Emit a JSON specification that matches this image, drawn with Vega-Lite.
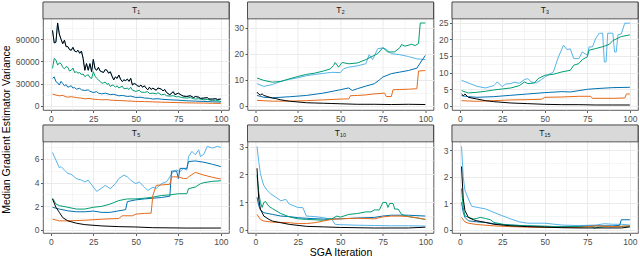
{
  "$schema": "https://vega.github.io/schema/vega-lite/v6.json",
  "padding": {"left": 2, "top": 1, "right": 2, "bottom": 0},
  "background": "white",
  "title": {"text": "Median Gradient Estimator Variance", "orient": "left", "anchor": "middle", "fontSize": 10.5, "fontWeight": "normal", "color": "#000000", "font": "Liberation Sans", "offset": 2},
  "config": {
    "font": "Liberation Sans",
    "view": {"stroke": "#333333", "strokeWidth": 0.8},
    "axis": {"domain": false, "tickColor": "#333333", "tickSize": 2.5, "tickWidth": 0.8, "labelColor": "#4d4d4d", "labelFontSize": 8.5, "labelPadding": 1.5, "gridColor": "#ebebeb", "titleFontSize": 10.5, "titleFontWeight": "normal", "titleColor": "#000000", "titlePadding": 1.5}
  },
  "datasets": {
    "d": [
      {"p":"T1","s":"lb","x":1,"y":102000},{"p":"T1","s":"lb","x":2,"y":85000},{"p":"T1","s":"lb","x":3,"y":86000},{"p":"T1","s":"lb","x":4,"y":112000},{"p":"T1","s":"lb","x":5,"y":97000},{"p":"T1","s":"lb","x":6,"y":90000},{"p":"T1","s":"lb","x":7,"y":84000},{"p":"T1","s":"lb","x":8,"y":88600},{"p":"T1","s":"lb","x":9,"y":80000},{"p":"T1","s":"lb","x":10,"y":80000},{"p":"T1","s":"lb","x":11,"y":76000},{"p":"T1","s":"lb","x":12,"y":75000},{"p":"T1","s":"lb","x":13,"y":79000},{"p":"T1","s":"lb","x":14,"y":74000},{"p":"T1","s":"lb","x":15,"y":73000},{"p":"T1","s":"lb","x":16,"y":75000},{"p":"T1","s":"lb","x":17,"y":71000},{"p":"T1","s":"lb","x":18,"y":74000},{"p":"T1","s":"lb","x":19,"y":64000},{"p":"T1","s":"lb","x":20,"y":48000},{"p":"T1","s":"lb","x":21,"y":57000},{"p":"T1","s":"lb","x":22,"y":48000},{"p":"T1","s":"lb","x":23,"y":57000},{"p":"T1","s":"lb","x":24,"y":46000},{"p":"T1","s":"lb","x":25,"y":62700},{"p":"T1","s":"lb","x":26,"y":50000},{"p":"T1","s":"lb","x":27,"y":48000},{"p":"T1","s":"lb","x":28,"y":52000},{"p":"T1","s":"lb","x":29,"y":47000},{"p":"T1","s":"lb","x":30,"y":46000},{"p":"T1","s":"lb","x":31,"y":45000},{"p":"T1","s":"lb","x":32,"y":49000},{"p":"T1","s":"lb","x":33,"y":48000},{"p":"T1","s":"lb","x":34,"y":44000},{"p":"T1","s":"lb","x":35,"y":46000},{"p":"T1","s":"lb","x":36,"y":40000},{"p":"T1","s":"lb","x":37,"y":35000},{"p":"T1","s":"lb","x":38,"y":39000},{"p":"T1","s":"lb","x":39,"y":37000},{"p":"T1","s":"lb","x":40,"y":41600},{"p":"T1","s":"lb","x":41,"y":36000},{"p":"T1","s":"lb","x":42,"y":32700},{"p":"T1","s":"lb","x":43,"y":35000},{"p":"T1","s":"lb","x":44,"y":34000},{"p":"T1","s":"lb","x":45,"y":36000},{"p":"T1","s":"lb","x":46,"y":33000},{"p":"T1","s":"lb","x":47,"y":37000},{"p":"T1","s":"lb","x":48,"y":28000},{"p":"T1","s":"lb","x":49,"y":30000},{"p":"T1","s":"lb","x":50,"y":29000},{"p":"T1","s":"lb","x":51,"y":27000},{"p":"T1","s":"lb","x":52,"y":26000},{"p":"T1","s":"lb","x":53,"y":28000},{"p":"T1","s":"lb","x":54,"y":25000},{"p":"T1","s":"lb","x":55,"y":27000},{"p":"T1","s":"lb","x":56,"y":24000},{"p":"T1","s":"lb","x":57,"y":21500},{"p":"T1","s":"lb","x":58,"y":25000},{"p":"T1","s":"lb","x":59,"y":22000},{"p":"T1","s":"lb","x":60,"y":23700},{"p":"T1","s":"lb","x":62,"y":21000},{"p":"T1","s":"lb","x":63,"y":24000},{"p":"T1","s":"lb","x":65,"y":22500},{"p":"T1","s":"lb","x":66,"y":20000},{"p":"T1","s":"lb","x":67,"y":22000},{"p":"T1","s":"lb","x":68,"y":18000},{"p":"T1","s":"lb","x":70,"y":14800},{"p":"T1","s":"lb","x":72,"y":19000},{"p":"T1","s":"lb","x":73,"y":15000},{"p":"T1","s":"lb","x":75,"y":17000},{"p":"T1","s":"lb","x":77,"y":14000},{"p":"T1","s":"lb","x":78,"y":13000},{"p":"T1","s":"lb","x":80,"y":12500},{"p":"T1","s":"lb","x":82,"y":13500},{"p":"T1","s":"lb","x":84,"y":11000},{"p":"T1","s":"lb","x":85,"y":12500},{"p":"T1","s":"lb","x":87,"y":11500},{"p":"T1","s":"lb","x":88,"y":10000},{"p":"T1","s":"lb","x":90,"y":10300},{"p":"T1","s":"lb","x":92,"y":11000},{"p":"T1","s":"lb","x":93,"y":9000},{"p":"T1","s":"lb","x":95,"y":9000},{"p":"T1","s":"lb","x":97,"y":9500},{"p":"T1","s":"lb","x":98,"y":8500},{"p":"T1","s":"lb","x":100,"y":9000},
      {"p":"T1","s":"bl","x":1,"y":37000},{"p":"T1","s":"bl","x":2,"y":39000},{"p":"T1","s":"bl","x":3,"y":32700},{"p":"T1","s":"bl","x":4,"y":31000},{"p":"T1","s":"bl","x":5,"y":28000},{"p":"T1","s":"bl","x":6,"y":33000},{"p":"T1","s":"bl","x":7,"y":30000},{"p":"T1","s":"bl","x":8,"y":27000},{"p":"T1","s":"bl","x":9,"y":28500},{"p":"T1","s":"bl","x":10,"y":25000},{"p":"T1","s":"bl","x":11,"y":26000},{"p":"T1","s":"bl","x":12,"y":27000},{"p":"T1","s":"bl","x":13,"y":24000},{"p":"T1","s":"bl","x":14,"y":24500},{"p":"T1","s":"bl","x":15,"y":22400},{"p":"T1","s":"bl","x":17,"y":23500},{"p":"T1","s":"bl","x":18,"y":21500},{"p":"T1","s":"bl","x":20,"y":20600},{"p":"T1","s":"bl","x":22,"y":21500},{"p":"T1","s":"bl","x":23,"y":19500},{"p":"T1","s":"bl","x":25,"y":17900},{"p":"T1","s":"bl","x":27,"y":19000},{"p":"T1","s":"bl","x":28,"y":17000},{"p":"T1","s":"bl","x":30,"y":16000},{"p":"T1","s":"bl","x":32,"y":17000},{"p":"T1","s":"bl","x":35,"y":15000},{"p":"T1","s":"bl","x":37,"y":15500},{"p":"T1","s":"bl","x":40,"y":13400},{"p":"T1","s":"bl","x":42,"y":14000},{"p":"T1","s":"bl","x":45,"y":12500},{"p":"T1","s":"bl","x":47,"y":13000},{"p":"T1","s":"bl","x":50,"y":11200},{"p":"T1","s":"bl","x":53,"y":11500},{"p":"T1","s":"bl","x":55,"y":10500},{"p":"T1","s":"bl","x":58,"y":10000},{"p":"T1","s":"bl","x":60,"y":9000},{"p":"T1","s":"bl","x":63,"y":9500},{"p":"T1","s":"bl","x":65,"y":8800},{"p":"T1","s":"bl","x":70,"y":8000},{"p":"T1","s":"bl","x":75,"y":7500},{"p":"T1","s":"bl","x":80,"y":6700},{"p":"T1","s":"bl","x":85,"y":6200},{"p":"T1","s":"bl","x":90,"y":5800},{"p":"T1","s":"bl","x":95,"y":5300},{"p":"T1","s":"bl","x":100,"y":4900},
      {"p":"T1","s":"gr","x":1,"y":50600},{"p":"T1","s":"gr","x":2,"y":64000},{"p":"T1","s":"gr","x":3,"y":62000},{"p":"T1","s":"gr","x":4,"y":55000},{"p":"T1","s":"gr","x":5,"y":58000},{"p":"T1","s":"gr","x":6,"y":57000},{"p":"T1","s":"gr","x":7,"y":52000},{"p":"T1","s":"gr","x":8,"y":50000},{"p":"T1","s":"gr","x":9,"y":53000},{"p":"T1","s":"gr","x":10,"y":52000},{"p":"T1","s":"gr","x":11,"y":47000},{"p":"T1","s":"gr","x":12,"y":48000},{"p":"T1","s":"gr","x":13,"y":51000},{"p":"T1","s":"gr","x":14,"y":45000},{"p":"T1","s":"gr","x":15,"y":46000},{"p":"T1","s":"gr","x":16,"y":44000},{"p":"T1","s":"gr","x":17,"y":45000},{"p":"T1","s":"gr","x":18,"y":42000},{"p":"T1","s":"gr","x":19,"y":43000},{"p":"T1","s":"gr","x":20,"y":39400},{"p":"T1","s":"gr","x":21,"y":41000},{"p":"T1","s":"gr","x":22,"y":42000},{"p":"T1","s":"gr","x":23,"y":38000},{"p":"T1","s":"gr","x":24,"y":37000},{"p":"T1","s":"gr","x":25,"y":46000},{"p":"T1","s":"gr","x":26,"y":40000},{"p":"T1","s":"gr","x":27,"y":37000},{"p":"T1","s":"gr","x":28,"y":35000},{"p":"T1","s":"gr","x":29,"y":33000},{"p":"T1","s":"gr","x":30,"y":30400},{"p":"T1","s":"gr","x":31,"y":31000},{"p":"T1","s":"gr","x":32,"y":32000},{"p":"T1","s":"gr","x":33,"y":29000},{"p":"T1","s":"gr","x":34,"y":30000},{"p":"T1","s":"gr","x":35,"y":26000},{"p":"T1","s":"gr","x":36,"y":28000},{"p":"T1","s":"gr","x":37,"y":27500},{"p":"T1","s":"gr","x":38,"y":25000},{"p":"T1","s":"gr","x":39,"y":27000},{"p":"T1","s":"gr","x":40,"y":24000},{"p":"T1","s":"gr","x":42,"y":26500},{"p":"T1","s":"gr","x":43,"y":23000},{"p":"T1","s":"gr","x":45,"y":23700},{"p":"T1","s":"gr","x":46,"y":22000},{"p":"T1","s":"gr","x":47,"y":25000},{"p":"T1","s":"gr","x":48,"y":21000},{"p":"T1","s":"gr","x":50,"y":19300},{"p":"T1","s":"gr","x":52,"y":21000},{"p":"T1","s":"gr","x":53,"y":18500},{"p":"T1","s":"gr","x":55,"y":18000},{"p":"T1","s":"gr","x":57,"y":19000},{"p":"T1","s":"gr","x":58,"y":16500},{"p":"T1","s":"gr","x":60,"y":17000},{"p":"T1","s":"gr","x":62,"y":16000},{"p":"T1","s":"gr","x":63,"y":17500},{"p":"T1","s":"gr","x":65,"y":14800},{"p":"T1","s":"gr","x":67,"y":15500},{"p":"T1","s":"gr","x":68,"y":13500},{"p":"T1","s":"gr","x":70,"y":13000},{"p":"T1","s":"gr","x":72,"y":13500},{"p":"T1","s":"gr","x":74,"y":12000},{"p":"T1","s":"gr","x":75,"y":12500},{"p":"T1","s":"gr","x":77,"y":11000},{"p":"T1","s":"gr","x":80,"y":10300},{"p":"T1","s":"gr","x":82,"y":11000},{"p":"T1","s":"gr","x":84,"y":9500},{"p":"T1","s":"gr","x":85,"y":9000},{"p":"T1","s":"gr","x":87,"y":9500},{"p":"T1","s":"gr","x":90,"y":8000},{"p":"T1","s":"gr","x":92,"y":8500},{"p":"T1","s":"gr","x":95,"y":7000},{"p":"T1","s":"gr","x":97,"y":7500},{"p":"T1","s":"gr","x":100,"y":5800},
      {"p":"T1","s":"or","x":1,"y":15700},{"p":"T1","s":"or","x":3,"y":14500},{"p":"T1","s":"or","x":5,"y":13400},{"p":"T1","s":"or","x":7,"y":14000},{"p":"T1","s":"or","x":9,"y":12000},{"p":"T1","s":"or","x":10,"y":11600},{"p":"T1","s":"or","x":12,"y":12200},{"p":"T1","s":"or","x":15,"y":11000},{"p":"T1","s":"or","x":18,"y":10200},{"p":"T1","s":"or","x":20,"y":9400},{"p":"T1","s":"or","x":23,"y":9800},{"p":"T1","s":"or","x":25,"y":8800},{"p":"T1","s":"or","x":28,"y":8400},{"p":"T1","s":"or","x":30,"y":8000},{"p":"T1","s":"or","x":33,"y":8300},{"p":"T1","s":"or","x":35,"y":7600},{"p":"T1","s":"or","x":40,"y":7000},{"p":"T1","s":"or","x":45,"y":6500},{"p":"T1","s":"or","x":50,"y":5800},{"p":"T1","s":"or","x":55,"y":5600},{"p":"T1","s":"or","x":60,"y":5200},{"p":"T1","s":"or","x":65,"y":4800},{"p":"T1","s":"or","x":70,"y":4500},{"p":"T1","s":"or","x":75,"y":4200},{"p":"T1","s":"or","x":80,"y":3900},{"p":"T1","s":"or","x":85,"y":3700},{"p":"T1","s":"or","x":90,"y":3600},{"p":"T1","s":"or","x":95,"y":3300},{"p":"T1","s":"or","x":100,"y":3100},
      {"p":"T1","s":"bk","x":1,"y":102000},{"p":"T1","s":"bk","x":2,"y":85000},{"p":"T1","s":"bk","x":3,"y":86000},{"p":"T1","s":"bk","x":4,"y":112000},{"p":"T1","s":"bk","x":5,"y":97000},{"p":"T1","s":"bk","x":6,"y":90000},{"p":"T1","s":"bk","x":7,"y":84000},{"p":"T1","s":"bk","x":8,"y":88600},{"p":"T1","s":"bk","x":9,"y":80000},{"p":"T1","s":"bk","x":10,"y":80000},{"p":"T1","s":"bk","x":11,"y":76000},{"p":"T1","s":"bk","x":12,"y":75000},{"p":"T1","s":"bk","x":13,"y":79000},{"p":"T1","s":"bk","x":14,"y":74000},{"p":"T1","s":"bk","x":15,"y":73000},{"p":"T1","s":"bk","x":16,"y":75000},{"p":"T1","s":"bk","x":17,"y":71000},{"p":"T1","s":"bk","x":18,"y":74000},{"p":"T1","s":"bk","x":19,"y":64000},{"p":"T1","s":"bk","x":20,"y":48000},{"p":"T1","s":"bk","x":21,"y":57000},{"p":"T1","s":"bk","x":22,"y":48000},{"p":"T1","s":"bk","x":23,"y":57000},{"p":"T1","s":"bk","x":24,"y":46000},{"p":"T1","s":"bk","x":25,"y":62700},{"p":"T1","s":"bk","x":26,"y":50000},{"p":"T1","s":"bk","x":27,"y":48000},{"p":"T1","s":"bk","x":28,"y":52000},{"p":"T1","s":"bk","x":29,"y":47000},{"p":"T1","s":"bk","x":30,"y":46000},{"p":"T1","s":"bk","x":31,"y":45000},{"p":"T1","s":"bk","x":32,"y":49000},{"p":"T1","s":"bk","x":33,"y":48000},{"p":"T1","s":"bk","x":34,"y":44000},{"p":"T1","s":"bk","x":35,"y":46000},{"p":"T1","s":"bk","x":36,"y":40000},{"p":"T1","s":"bk","x":37,"y":35000},{"p":"T1","s":"bk","x":38,"y":39000},{"p":"T1","s":"bk","x":39,"y":37000},{"p":"T1","s":"bk","x":40,"y":41600},{"p":"T1","s":"bk","x":41,"y":36000},{"p":"T1","s":"bk","x":42,"y":32700},{"p":"T1","s":"bk","x":43,"y":35000},{"p":"T1","s":"bk","x":44,"y":34000},{"p":"T1","s":"bk","x":45,"y":36000},{"p":"T1","s":"bk","x":46,"y":33000},{"p":"T1","s":"bk","x":47,"y":37000},{"p":"T1","s":"bk","x":48,"y":28000},{"p":"T1","s":"bk","x":49,"y":30000},{"p":"T1","s":"bk","x":50,"y":29000},{"p":"T1","s":"bk","x":51,"y":27000},{"p":"T1","s":"bk","x":52,"y":26000},{"p":"T1","s":"bk","x":53,"y":28000},{"p":"T1","s":"bk","x":54,"y":25000},{"p":"T1","s":"bk","x":55,"y":27000},{"p":"T1","s":"bk","x":56,"y":24000},{"p":"T1","s":"bk","x":57,"y":21500},{"p":"T1","s":"bk","x":58,"y":25000},{"p":"T1","s":"bk","x":59,"y":22000},{"p":"T1","s":"bk","x":60,"y":23700},{"p":"T1","s":"bk","x":62,"y":21000},{"p":"T1","s":"bk","x":63,"y":24000},{"p":"T1","s":"bk","x":65,"y":22500},{"p":"T1","s":"bk","x":66,"y":20000},{"p":"T1","s":"bk","x":67,"y":22000},{"p":"T1","s":"bk","x":68,"y":18000},{"p":"T1","s":"bk","x":70,"y":14800},{"p":"T1","s":"bk","x":72,"y":19000},{"p":"T1","s":"bk","x":73,"y":15000},{"p":"T1","s":"bk","x":75,"y":17000},{"p":"T1","s":"bk","x":77,"y":14000},{"p":"T1","s":"bk","x":78,"y":13000},{"p":"T1","s":"bk","x":80,"y":12500},{"p":"T1","s":"bk","x":82,"y":13500},{"p":"T1","s":"bk","x":84,"y":11000},{"p":"T1","s":"bk","x":85,"y":12500},{"p":"T1","s":"bk","x":87,"y":11500},{"p":"T1","s":"bk","x":88,"y":10000},{"p":"T1","s":"bk","x":90,"y":10300},{"p":"T1","s":"bk","x":92,"y":11000},{"p":"T1","s":"bk","x":93,"y":9000},{"p":"T1","s":"bk","x":95,"y":9000},{"p":"T1","s":"bk","x":97,"y":9500},{"p":"T1","s":"bk","x":98,"y":8500},{"p":"T1","s":"bk","x":100,"y":9000},

      {"p":"T2","s":"lb","x":1,"y":8.5},{"p":"T2","s":"lb","x":5,"y":7.5},{"p":"T2","s":"lb","x":10,"y":8.2},{"p":"T2","s":"lb","x":15,"y":9.4},{"p":"T2","s":"lb","x":20,"y":10.2},{"p":"T2","s":"lb","x":25,"y":10.8},{"p":"T2","s":"lb","x":30,"y":11.6},{"p":"T2","s":"lb","x":35,"y":12.1},{"p":"T2","s":"lb","x":40,"y":12.5},{"p":"T2","s":"lb","x":45,"y":12.9},{"p":"T2","s":"lb","x":50,"y":12.8},{"p":"T2","s":"lb","x":52,"y":14.3},{"p":"T2","s":"lb","x":55,"y":14.9},{"p":"T2","s":"lb","x":60,"y":15.4},{"p":"T2","s":"lb","x":65,"y":16.2},{"p":"T2","s":"lb","x":67,"y":19.7},{"p":"T2","s":"lb","x":69,"y":17.8},{"p":"T2","s":"lb","x":72,"y":22.0},{"p":"T2","s":"lb","x":75,"y":22.3},{"p":"T2","s":"lb","x":77,"y":21.8},{"p":"T2","s":"lb","x":80,"y":20.1},{"p":"T2","s":"lb","x":85,"y":19.7},{"p":"T2","s":"lb","x":90,"y":19.0},{"p":"T2","s":"lb","x":95,"y":18.1},{"p":"T2","s":"lb","x":100,"y":17.8},
      {"p":"T2","s":"bl","x":1,"y":4.0},{"p":"T2","s":"bl","x":5,"y":3.3},{"p":"T2","s":"bl","x":10,"y":3.1},{"p":"T2","s":"bl","x":20,"y":3.5},{"p":"T2","s":"bl","x":30,"y":4.0},{"p":"T2","s":"bl","x":40,"y":4.9},{"p":"T2","s":"bl","x":50,"y":6.2},{"p":"T2","s":"bl","x":55,"y":6.9},{"p":"T2","s":"bl","x":57,"y":5.9},{"p":"T2","s":"bl","x":60,"y":6.6},{"p":"T2","s":"bl","x":65,"y":7.6},{"p":"T2","s":"bl","x":70,"y":8.5},{"p":"T2","s":"bl","x":73,"y":10.0},{"p":"T2","s":"bl","x":75,"y":11.1},{"p":"T2","s":"bl","x":80,"y":12.4},{"p":"T2","s":"bl","x":85,"y":13.0},{"p":"T2","s":"bl","x":90,"y":13.6},{"p":"T2","s":"bl","x":95,"y":14.5},{"p":"T2","s":"bl","x":97,"y":16.5},{"p":"T2","s":"bl","x":100,"y":19.4},
      {"p":"T2","s":"gr","x":1,"y":10.7},{"p":"T2","s":"gr","x":5,"y":9.8},{"p":"T2","s":"gr","x":10,"y":9.1},{"p":"T2","s":"gr","x":15,"y":9.4},{"p":"T2","s":"gr","x":20,"y":10.4},{"p":"T2","s":"gr","x":25,"y":11.3},{"p":"T2","s":"gr","x":30,"y":12.1},{"p":"T2","s":"gr","x":35,"y":12.6},{"p":"T2","s":"gr","x":40,"y":13.4},{"p":"T2","s":"gr","x":44,"y":14.2},{"p":"T2","s":"gr","x":46,"y":15.5},{"p":"T2","s":"gr","x":47,"y":16.7},{"p":"T2","s":"gr","x":49,"y":14.9},{"p":"T2","s":"gr","x":51,"y":16.7},{"p":"T2","s":"gr","x":55,"y":16.2},{"p":"T2","s":"gr","x":60,"y":16.5},{"p":"T2","s":"gr","x":65,"y":17.8},{"p":"T2","s":"gr","x":68,"y":18.8},{"p":"T2","s":"gr","x":72,"y":20.1},{"p":"T2","s":"gr","x":75,"y":22.4},{"p":"T2","s":"gr","x":78,"y":20.7},{"p":"T2","s":"gr","x":82,"y":20.8},{"p":"T2","s":"gr","x":85,"y":22.4},{"p":"T2","s":"gr","x":86,"y":23.6},{"p":"T2","s":"gr","x":88,"y":23.0},{"p":"T2","s":"gr","x":92,"y":23.7},{"p":"T2","s":"gr","x":94,"y":23.2},{"p":"T2","s":"gr","x":96,"y":24.0},{"p":"T2","s":"gr","x":97,"y":31.9},{"p":"T2","s":"gr","x":100,"y":31.9},
      {"p":"T2","s":"or","x":1,"y":2.1},{"p":"T2","s":"or","x":10,"y":1.8},{"p":"T2","s":"or","x":20,"y":1.8},{"p":"T2","s":"or","x":30,"y":2.0},{"p":"T2","s":"or","x":40,"y":2.3},{"p":"T2","s":"or","x":50,"y":2.6},{"p":"T2","s":"or","x":55,"y":2.7},{"p":"T2","s":"or","x":56,"y":3.9},{"p":"T2","s":"or","x":60,"y":4.0},{"p":"T2","s":"or","x":65,"y":4.2},{"p":"T2","s":"or","x":70,"y":4.6},{"p":"T2","s":"or","x":76,"y":4.9},{"p":"T2","s":"or","x":77,"y":3.6},{"p":"T2","s":"or","x":80,"y":3.6},{"p":"T2","s":"or","x":81,"y":6.2},{"p":"T2","s":"or","x":85,"y":6.3},{"p":"T2","s":"or","x":90,"y":6.4},{"p":"T2","s":"or","x":95,"y":6.6},{"p":"T2","s":"or","x":96,"y":13.4},{"p":"T2","s":"or","x":100,"y":13.6},
      {"p":"T2","s":"bk","x":1,"y":5.3},{"p":"T2","s":"bk","x":2,"y":4.5},{"p":"T2","s":"bk","x":3,"y":4.2},{"p":"T2","s":"bk","x":4,"y":4.6},{"p":"T2","s":"bk","x":5,"y":4.0},{"p":"T2","s":"bk","x":7,"y":3.6},{"p":"T2","s":"bk","x":10,"y":3.0},{"p":"T2","s":"bk","x":12,"y":2.8},{"p":"T2","s":"bk","x":15,"y":2.3},{"p":"T2","s":"bk","x":18,"y":2.0},{"p":"T2","s":"bk","x":20,"y":1.8},{"p":"T2","s":"bk","x":25,"y":1.5},{"p":"T2","s":"bk","x":30,"y":1.2},{"p":"T2","s":"bk","x":35,"y":1.1},{"p":"T2","s":"bk","x":40,"y":1.0},{"p":"T2","s":"bk","x":45,"y":0.9},{"p":"T2","s":"bk","x":50,"y":0.8},{"p":"T2","s":"bk","x":60,"y":0.6},{"p":"T2","s":"bk","x":70,"y":0.6},{"p":"T2","s":"bk","x":80,"y":0.5},{"p":"T2","s":"bk","x":90,"y":0.6},{"p":"T2","s":"bk","x":100,"y":0.5},

      {"p":"T3","s":"lb","x":1,"y":7.7},{"p":"T3","s":"lb","x":5,"y":6.9},{"p":"T3","s":"lb","x":10,"y":5.9},{"p":"T3","s":"lb","x":15,"y":5.4},{"p":"T3","s":"lb","x":20,"y":6.1},{"p":"T3","s":"lb","x":22,"y":7.2},{"p":"T3","s":"lb","x":25,"y":5.8},{"p":"T3","s":"lb","x":27,"y":6.6},{"p":"T3","s":"lb","x":30,"y":6.7},{"p":"T3","s":"lb","x":32,"y":7.1},{"p":"T3","s":"lb","x":35,"y":6.8},{"p":"T3","s":"lb","x":38,"y":7.9},{"p":"T3","s":"lb","x":40,"y":8.2},{"p":"T3","s":"lb","x":42,"y":7.2},{"p":"T3","s":"lb","x":45,"y":6.9},{"p":"T3","s":"lb","x":48,"y":7.9},{"p":"T3","s":"lb","x":50,"y":8.7},{"p":"T3","s":"lb","x":55,"y":10.2},{"p":"T3","s":"lb","x":58,"y":14.7},{"p":"T3","s":"lb","x":61,"y":18.2},{"p":"T3","s":"lb","x":63,"y":16.9},{"p":"T3","s":"lb","x":65,"y":17.1},{"p":"T3","s":"lb","x":67,"y":14.2},{"p":"T3","s":"lb","x":70,"y":14.2},{"p":"T3","s":"lb","x":72,"y":16.2},{"p":"T3","s":"lb","x":75,"y":15.2},{"p":"T3","s":"lb","x":76,"y":17.7},{"p":"T3","s":"lb","x":78,"y":17.7},{"p":"T3","s":"lb","x":80,"y":20.3},{"p":"T3","s":"lb","x":82,"y":21.8},{"p":"T3","s":"lb","x":84,"y":21.8},{"p":"T3","s":"lb","x":85,"y":13.2},{"p":"T3","s":"lb","x":86,"y":13.2},{"p":"T3","s":"lb","x":87,"y":21.8},{"p":"T3","s":"lb","x":90,"y":21.8},{"p":"T3","s":"lb","x":91,"y":16.2},{"p":"T3","s":"lb","x":92,"y":16.2},{"p":"T3","s":"lb","x":93,"y":21.3},{"p":"T3","s":"lb","x":95,"y":21.6},{"p":"T3","s":"lb","x":97,"y":24.8},{"p":"T3","s":"lb","x":100,"y":24.8},
      {"p":"T3","s":"bl","x":1,"y":3.1},{"p":"T3","s":"bl","x":5,"y":2.8},{"p":"T3","s":"bl","x":10,"y":2.6},{"p":"T3","s":"bl","x":20,"y":2.8},{"p":"T3","s":"bl","x":30,"y":3.2},{"p":"T3","s":"bl","x":40,"y":3.6},{"p":"T3","s":"bl","x":50,"y":4.0},{"p":"T3","s":"bl","x":60,"y":4.3},{"p":"T3","s":"bl","x":65,"y":4.2},{"p":"T3","s":"bl","x":70,"y":4.6},{"p":"T3","s":"bl","x":75,"y":5.0},{"p":"T3","s":"bl","x":80,"y":5.2},{"p":"T3","s":"bl","x":90,"y":5.5},{"p":"T3","s":"bl","x":100,"y":5.6},
      {"p":"T3","s":"gr","x":1,"y":4.6},{"p":"T3","s":"gr","x":5,"y":3.9},{"p":"T3","s":"gr","x":10,"y":4.1},{"p":"T3","s":"gr","x":15,"y":4.4},{"p":"T3","s":"gr","x":20,"y":4.8},{"p":"T3","s":"gr","x":25,"y":5.1},{"p":"T3","s":"gr","x":30,"y":5.4},{"p":"T3","s":"gr","x":35,"y":6.1},{"p":"T3","s":"gr","x":38,"y":7.2},{"p":"T3","s":"gr","x":40,"y":6.7},{"p":"T3","s":"gr","x":44,"y":6.9},{"p":"T3","s":"gr","x":46,"y":8.2},{"p":"T3","s":"gr","x":50,"y":9.2},{"p":"T3","s":"gr","x":55,"y":9.5},{"p":"T3","s":"gr","x":60,"y":10.2},{"p":"T3","s":"gr","x":65,"y":10.7},{"p":"T3","s":"gr","x":67,"y":12.2},{"p":"T3","s":"gr","x":70,"y":12.7},{"p":"T3","s":"gr","x":72,"y":13.9},{"p":"T3","s":"gr","x":75,"y":14.7},{"p":"T3","s":"gr","x":76,"y":16.7},{"p":"T3","s":"gr","x":80,"y":17.2},{"p":"T3","s":"gr","x":85,"y":17.9},{"p":"T3","s":"gr","x":88,"y":18.5},{"p":"T3","s":"gr","x":90,"y":19.6},{"p":"T3","s":"gr","x":95,"y":20.8},{"p":"T3","s":"gr","x":100,"y":21.3},
      {"p":"T3","s":"or","x":1,"y":1.6},{"p":"T3","s":"or","x":10,"y":1.4},{"p":"T3","s":"or","x":20,"y":1.6},{"p":"T3","s":"or","x":30,"y":1.8},{"p":"T3","s":"or","x":40,"y":1.9},{"p":"T3","s":"or","x":48,"y":2.0},{"p":"T3","s":"or","x":50,"y":2.6},{"p":"T3","s":"or","x":60,"y":2.7},{"p":"T3","s":"or","x":70,"y":2.9},{"p":"T3","s":"or","x":77,"y":2.9},{"p":"T3","s":"or","x":78,"y":2.3},{"p":"T3","s":"or","x":90,"y":2.3},{"p":"T3","s":"or","x":97,"y":2.4},{"p":"T3","s":"or","x":98,"y":3.6},{"p":"T3","s":"or","x":100,"y":3.6},
      {"p":"T3","s":"bk","x":1,"y":3.6},{"p":"T3","s":"bk","x":2,"y":3.1},{"p":"T3","s":"bk","x":3,"y":3.6},{"p":"T3","s":"bk","x":5,"y":2.6},{"p":"T3","s":"bk","x":10,"y":2.1},{"p":"T3","s":"bk","x":15,"y":1.6},{"p":"T3","s":"bk","x":20,"y":1.3},{"p":"T3","s":"bk","x":30,"y":0.9},{"p":"T3","s":"bk","x":40,"y":0.7},{"p":"T3","s":"bk","x":50,"y":0.5},{"p":"T3","s":"bk","x":60,"y":0.4},{"p":"T3","s":"bk","x":70,"y":0.4},{"p":"T3","s":"bk","x":80,"y":0.3},{"p":"T3","s":"bk","x":90,"y":0.3},{"p":"T3","s":"bk","x":100,"y":0.3},

      {"p":"T5","s":"lb","x":1,"y":6.55},{"p":"T5","s":"lb","x":3,"y":5.9},{"p":"T5","s":"lb","x":5,"y":5.25},{"p":"T5","s":"lb","x":6,"y":5.35},{"p":"T5","s":"lb","x":8,"y":5.05},{"p":"T5","s":"lb","x":10,"y":4.77},{"p":"T5","s":"lb","x":12,"y":4.7},{"p":"T5","s":"lb","x":15,"y":4.34},{"p":"T5","s":"lb","x":18,"y":4.2},{"p":"T5","s":"lb","x":20,"y":4.05},{"p":"T5","s":"lb","x":22,"y":4.2},{"p":"T5","s":"lb","x":25,"y":3.62},{"p":"T5","s":"lb","x":27,"y":3.25},{"p":"T5","s":"lb","x":30,"y":3.53},{"p":"T5","s":"lb","x":32,"y":3.76},{"p":"T5","s":"lb","x":35,"y":3.48},{"p":"T5","s":"lb","x":38,"y":3.9},{"p":"T5","s":"lb","x":40,"y":4.34},{"p":"T5","s":"lb","x":43,"y":4.63},{"p":"T5","s":"lb","x":45,"y":4.48},{"p":"T5","s":"lb","x":47,"y":4.2},{"p":"T5","s":"lb","x":50,"y":3.9},{"p":"T5","s":"lb","x":52,"y":4.05},{"p":"T5","s":"lb","x":55,"y":3.62},{"p":"T5","s":"lb","x":57,"y":3.33},{"p":"T5","s":"lb","x":60,"y":3.6},{"p":"T5","s":"lb","x":62,"y":3.5},{"p":"T5","s":"lb","x":65,"y":3.9},{"p":"T5","s":"lb","x":68,"y":4.05},{"p":"T5","s":"lb","x":70,"y":4.48},{"p":"T5","s":"lb","x":72,"y":4.91},{"p":"T5","s":"lb","x":74,"y":5.05},{"p":"T5","s":"lb","x":76,"y":4.91},{"p":"T5","s":"lb","x":78,"y":5.2},{"p":"T5","s":"lb","x":80,"y":5.05},{"p":"T5","s":"lb","x":81,"y":6.2},{"p":"T5","s":"lb","x":83,"y":6.64},{"p":"T5","s":"lb","x":85,"y":6.35},{"p":"T5","s":"lb","x":87,"y":6.78},{"p":"T5","s":"lb","x":88,"y":6.2},{"p":"T5","s":"lb","x":90,"y":6.4},{"p":"T5","s":"lb","x":92,"y":7.07},{"p":"T5","s":"lb","x":95,"y":6.92},{"p":"T5","s":"lb","x":98,"y":7.07},{"p":"T5","s":"lb","x":100,"y":6.98},
      {"p":"T5","s":"bl","x":1,"y":1.9},{"p":"T5","s":"bl","x":5,"y":1.75},{"p":"T5","s":"bl","x":10,"y":1.6},{"p":"T5","s":"bl","x":15,"y":1.52},{"p":"T5","s":"bl","x":20,"y":1.52},{"p":"T5","s":"bl","x":25,"y":1.58},{"p":"T5","s":"bl","x":30,"y":1.47},{"p":"T5","s":"bl","x":35,"y":1.47},{"p":"T5","s":"bl","x":40,"y":1.6},{"p":"T5","s":"bl","x":44,"y":1.7},{"p":"T5","s":"bl","x":45,"y":2.38},{"p":"T5","s":"bl","x":50,"y":2.53},{"p":"T5","s":"bl","x":55,"y":2.61},{"p":"T5","s":"bl","x":60,"y":2.67},{"p":"T5","s":"bl","x":65,"y":2.73},{"p":"T5","s":"bl","x":70,"y":2.84},{"p":"T5","s":"bl","x":71,"y":4.97},{"p":"T5","s":"bl","x":74,"y":4.97},{"p":"T5","s":"bl","x":75,"y":4.34},{"p":"T5","s":"bl","x":76,"y":5.2},{"p":"T5","s":"bl","x":80,"y":5.2},{"p":"T5","s":"bl","x":81,"y":5.78},{"p":"T5","s":"bl","x":85,"y":5.83},{"p":"T5","s":"bl","x":90,"y":5.72},{"p":"T5","s":"bl","x":95,"y":5.55},{"p":"T5","s":"bl","x":100,"y":5.35},
      {"p":"T5","s":"gr","x":1,"y":2.67},{"p":"T5","s":"gr","x":3,"y":2.18},{"p":"T5","s":"gr","x":5,"y":2.04},{"p":"T5","s":"gr","x":10,"y":1.9},{"p":"T5","s":"gr","x":15,"y":1.75},{"p":"T5","s":"gr","x":20,"y":1.75},{"p":"T5","s":"gr","x":25,"y":1.9},{"p":"T5","s":"gr","x":30,"y":1.98},{"p":"T5","s":"gr","x":35,"y":2.18},{"p":"T5","s":"gr","x":40,"y":2.47},{"p":"T5","s":"gr","x":45,"y":2.61},{"p":"T5","s":"gr","x":50,"y":2.61},{"p":"T5","s":"gr","x":55,"y":2.67},{"p":"T5","s":"gr","x":60,"y":2.76},{"p":"T5","s":"gr","x":65,"y":2.9},{"p":"T5","s":"gr","x":70,"y":2.95},{"p":"T5","s":"gr","x":75,"y":3.05},{"p":"T5","s":"gr","x":80,"y":3.05},{"p":"T5","s":"gr","x":81,"y":3.48},{"p":"T5","s":"gr","x":85,"y":3.62},{"p":"T5","s":"gr","x":88,"y":3.9},{"p":"T5","s":"gr","x":90,"y":3.99},{"p":"T5","s":"gr","x":95,"y":4.1},{"p":"T5","s":"gr","x":100,"y":4.15},
      {"p":"T5","s":"or","x":1,"y":0.89},{"p":"T5","s":"or","x":5,"y":0.75},{"p":"T5","s":"or","x":10,"y":0.75},{"p":"T5","s":"or","x":20,"y":0.8},{"p":"T5","s":"or","x":30,"y":0.89},{"p":"T5","s":"or","x":40,"y":0.95},{"p":"T5","s":"or","x":42,"y":1.18},{"p":"T5","s":"or","x":48,"y":1.18},{"p":"T5","s":"or","x":50,"y":1.32},{"p":"T5","s":"or","x":55,"y":1.38},{"p":"T5","s":"or","x":59,"y":1.4},{"p":"T5","s":"or","x":60,"y":2.9},{"p":"T5","s":"or","x":62,"y":3.76},{"p":"T5","s":"or","x":70,"y":3.85},{"p":"T5","s":"or","x":71,"y":4.48},{"p":"T5","s":"or","x":75,"y":4.48},{"p":"T5","s":"or","x":78,"y":4.34},{"p":"T5","s":"or","x":80,"y":4.34},{"p":"T5","s":"or","x":81,"y":4.48},{"p":"T5","s":"or","x":85,"y":4.86},{"p":"T5","s":"or","x":90,"y":4.63},{"p":"T5","s":"or","x":95,"y":4.45},{"p":"T5","s":"or","x":100,"y":4.3},
      {"p":"T5","s":"bk","x":1,"y":2.6},{"p":"T5","s":"bk","x":3,"y":1.9},{"p":"T5","s":"bk","x":5,"y":1.47},{"p":"T5","s":"bk","x":7,"y":1.03},{"p":"T5","s":"bk","x":10,"y":0.75},{"p":"T5","s":"bk","x":15,"y":0.55},{"p":"T5","s":"bk","x":20,"y":0.43},{"p":"T5","s":"bk","x":30,"y":0.32},{"p":"T5","s":"bk","x":40,"y":0.26},{"p":"T5","s":"bk","x":50,"y":0.23},{"p":"T5","s":"bk","x":60,"y":0.17},{"p":"T5","s":"bk","x":80,"y":0.14},{"p":"T5","s":"bk","x":100,"y":0.14},

      {"p":"T10","s":"lb","x":1,"y":3.0},{"p":"T10","s":"lb","x":2,"y":2.46},{"p":"T10","s":"lb","x":3,"y":2.03},{"p":"T10","s":"lb","x":4,"y":1.79},{"p":"T10","s":"lb","x":5,"y":1.6},{"p":"T10","s":"lb","x":7,"y":1.42},{"p":"T10","s":"lb","x":9,"y":1.3},{"p":"T10","s":"lb","x":12,"y":1.18},{"p":"T10","s":"lb","x":15,"y":1.05},{"p":"T10","s":"lb","x":18,"y":1.1},{"p":"T10","s":"lb","x":20,"y":0.93},{"p":"T10","s":"lb","x":25,"y":0.81},{"p":"T10","s":"lb","x":28,"y":0.8},{"p":"T10","s":"lb","x":30,"y":0.5},{"p":"T10","s":"lb","x":35,"y":0.48},{"p":"T10","s":"lb","x":40,"y":0.44},{"p":"T10","s":"lb","x":45,"y":0.38},{"p":"T10","s":"lb","x":47,"y":0.2},{"p":"T10","s":"lb","x":50,"y":0.19},{"p":"T10","s":"lb","x":60,"y":0.17},{"p":"T10","s":"lb","x":70,"y":0.16},{"p":"T10","s":"lb","x":80,"y":0.15},{"p":"T10","s":"lb","x":90,"y":0.15},{"p":"T10","s":"lb","x":100,"y":0.14},
      {"p":"T10","s":"bl","x":1,"y":1.18},{"p":"T10","s":"bl","x":2,"y":0.87},{"p":"T10","s":"bl","x":3,"y":0.72},{"p":"T10","s":"bl","x":5,"y":0.62},{"p":"T10","s":"bl","x":10,"y":0.56},{"p":"T10","s":"bl","x":15,"y":0.5},{"p":"T10","s":"bl","x":20,"y":0.48},{"p":"T10","s":"bl","x":25,"y":0.44},{"p":"T10","s":"bl","x":30,"y":0.42},{"p":"T10","s":"bl","x":40,"y":0.39},{"p":"T10","s":"bl","x":50,"y":0.4},{"p":"T10","s":"bl","x":60,"y":0.43},{"p":"T10","s":"bl","x":70,"y":0.45},{"p":"T10","s":"bl","x":75,"y":0.5},{"p":"T10","s":"bl","x":80,"y":0.53},{"p":"T10","s":"bl","x":90,"y":0.53},{"p":"T10","s":"bl","x":100,"y":0.5},
      {"p":"T10","s":"gr","x":1,"y":1.97},{"p":"T10","s":"gr","x":2,"y":1.36},{"p":"T10","s":"gr","x":3,"y":0.99},{"p":"T10","s":"gr","x":4,"y":0.81},{"p":"T10","s":"gr","x":5,"y":0.99},{"p":"T10","s":"gr","x":6,"y":1.02},{"p":"T10","s":"gr","x":8,"y":0.85},{"p":"T10","s":"gr","x":10,"y":0.77},{"p":"T10","s":"gr","x":15,"y":0.59},{"p":"T10","s":"gr","x":20,"y":0.47},{"p":"T10","s":"gr","x":25,"y":0.4},{"p":"T10","s":"gr","x":30,"y":0.38},{"p":"T10","s":"gr","x":40,"y":0.35},{"p":"T10","s":"gr","x":45,"y":0.4},{"p":"T10","s":"gr","x":48,"y":0.5},{"p":"T10","s":"gr","x":50,"y":0.46},{"p":"T10","s":"gr","x":55,"y":0.56},{"p":"T10","s":"gr","x":60,"y":0.59},{"p":"T10","s":"gr","x":65,"y":0.65},{"p":"T10","s":"gr","x":68,"y":0.65},{"p":"T10","s":"gr","x":70,"y":0.72},{"p":"T10","s":"gr","x":73,"y":0.72},{"p":"T10","s":"gr","x":75,"y":0.99},{"p":"T10","s":"gr","x":77,"y":0.99},{"p":"T10","s":"gr","x":78,"y":0.81},{"p":"T10","s":"gr","x":79,"y":0.95},{"p":"T10","s":"gr","x":81,"y":0.95},{"p":"T10","s":"gr","x":82,"y":0.75},{"p":"T10","s":"gr","x":84,"y":0.75},{"p":"T10","s":"gr","x":86,"y":0.56},{"p":"T10","s":"gr","x":90,"y":0.48},{"p":"T10","s":"gr","x":95,"y":0.43},{"p":"T10","s":"gr","x":100,"y":0.38},
      {"p":"T10","s":"or","x":1,"y":0.56},{"p":"T10","s":"or","x":3,"y":0.38},{"p":"T10","s":"or","x":5,"y":0.32},{"p":"T10","s":"or","x":10,"y":0.28},{"p":"T10","s":"or","x":20,"y":0.26},{"p":"T10","s":"or","x":25,"y":0.23},{"p":"T10","s":"or","x":30,"y":0.23},{"p":"T10","s":"or","x":35,"y":0.26},{"p":"T10","s":"or","x":40,"y":0.32},{"p":"T10","s":"or","x":45,"y":0.38},{"p":"T10","s":"or","x":50,"y":0.4},{"p":"T10","s":"or","x":60,"y":0.42},{"p":"T10","s":"or","x":70,"y":0.4},{"p":"T10","s":"or","x":75,"y":0.47},{"p":"T10","s":"or","x":80,"y":0.5},{"p":"T10","s":"or","x":85,"y":0.5},{"p":"T10","s":"or","x":90,"y":0.48},{"p":"T10","s":"or","x":95,"y":0.44},{"p":"T10","s":"or","x":100,"y":0.38},
      {"p":"T10","s":"bk","x":1,"y":2.22},{"p":"T10","s":"bk","x":2,"y":1.11},{"p":"T10","s":"bk","x":3,"y":0.75},{"p":"T10","s":"bk","x":5,"y":0.5},{"p":"T10","s":"bk","x":8,"y":0.38},{"p":"T10","s":"bk","x":10,"y":0.32},{"p":"T10","s":"bk","x":15,"y":0.26},{"p":"T10","s":"bk","x":20,"y":0.2},{"p":"T10","s":"bk","x":30,"y":0.13},{"p":"T10","s":"bk","x":40,"y":0.11},{"p":"T10","s":"bk","x":50,"y":0.09},{"p":"T10","s":"bk","x":70,"y":0.07},{"p":"T10","s":"bk","x":90,"y":0.07},{"p":"T10","s":"bk","x":100,"y":0.1},

      {"p":"T15","s":"lb","x":1,"y":3.14},{"p":"T15","s":"lb","x":2,"y":1.99},{"p":"T15","s":"lb","x":3,"y":1.48},{"p":"T15","s":"lb","x":5,"y":1.16},{"p":"T15","s":"lb","x":7,"y":0.88},{"p":"T15","s":"lb","x":10,"y":0.84},{"p":"T15","s":"lb","x":15,"y":0.78},{"p":"T15","s":"lb","x":20,"y":0.65},{"p":"T15","s":"lb","x":25,"y":0.52},{"p":"T15","s":"lb","x":30,"y":0.4},{"p":"T15","s":"lb","x":35,"y":0.29},{"p":"T15","s":"lb","x":40,"y":0.24},{"p":"T15","s":"lb","x":50,"y":0.24},{"p":"T15","s":"lb","x":60,"y":0.17},{"p":"T15","s":"lb","x":70,"y":0.15},{"p":"T15","s":"lb","x":80,"y":0.17},{"p":"T15","s":"lb","x":85,"y":0.22},{"p":"T15","s":"lb","x":90,"y":0.2},{"p":"T15","s":"lb","x":95,"y":0.2},{"p":"T15","s":"lb","x":100,"y":0.17},
      {"p":"T15","s":"bl","x":1,"y":1.03},{"p":"T15","s":"bl","x":2,"y":0.65},{"p":"T15","s":"bl","x":3,"y":0.46},{"p":"T15","s":"bl","x":5,"y":0.33},{"p":"T15","s":"bl","x":10,"y":0.29},{"p":"T15","s":"bl","x":15,"y":0.27},{"p":"T15","s":"bl","x":20,"y":0.22},{"p":"T15","s":"bl","x":30,"y":0.17},{"p":"T15","s":"bl","x":40,"y":0.14},{"p":"T15","s":"bl","x":50,"y":0.11},{"p":"T15","s":"bl","x":60,"y":0.11},{"p":"T15","s":"bl","x":70,"y":0.12},{"p":"T15","s":"bl","x":80,"y":0.14},{"p":"T15","s":"bl","x":90,"y":0.14},{"p":"T15","s":"bl","x":94,"y":0.16},{"p":"T15","s":"bl","x":95,"y":0.37},{"p":"T15","s":"bl","x":100,"y":0.37},
      {"p":"T15","s":"gr","x":1,"y":1.55},{"p":"T15","s":"gr","x":2,"y":0.84},{"p":"T15","s":"gr","x":3,"y":0.52},{"p":"T15","s":"gr","x":5,"y":0.46},{"p":"T15","s":"gr","x":8,"y":0.4},{"p":"T15","s":"gr","x":10,"y":0.42},{"p":"T15","s":"gr","x":12,"y":0.46},{"p":"T15","s":"gr","x":15,"y":0.42},{"p":"T15","s":"gr","x":18,"y":0.37},{"p":"T15","s":"gr","x":20,"y":0.27},{"p":"T15","s":"gr","x":25,"y":0.2},{"p":"T15","s":"gr","x":30,"y":0.17},{"p":"T15","s":"gr","x":40,"y":0.14},{"p":"T15","s":"gr","x":50,"y":0.13},{"p":"T15","s":"gr","x":60,"y":0.1},{"p":"T15","s":"gr","x":70,"y":0.11},{"p":"T15","s":"gr","x":78,"y":0.11},{"p":"T15","s":"gr","x":79,"y":0.04},{"p":"T15","s":"gr","x":80,"y":0.07},{"p":"T15","s":"gr","x":85,"y":0.11},{"p":"T15","s":"gr","x":90,"y":0.11},{"p":"T15","s":"gr","x":100,"y":0.13},
      {"p":"T15","s":"or","x":1,"y":0.46},{"p":"T15","s":"or","x":3,"y":0.29},{"p":"T15","s":"or","x":5,"y":0.24},{"p":"T15","s":"or","x":10,"y":0.19},{"p":"T15","s":"or","x":20,"y":0.14},{"p":"T15","s":"or","x":30,"y":0.11},{"p":"T15","s":"or","x":40,"y":0.09},{"p":"T15","s":"or","x":50,"y":0.08},{"p":"T15","s":"or","x":60,"y":0.08},{"p":"T15","s":"or","x":70,"y":0.08},{"p":"T15","s":"or","x":75,"y":0.11},{"p":"T15","s":"or","x":80,"y":0.14},{"p":"T15","s":"or","x":90,"y":0.11},{"p":"T15","s":"or","x":100,"y":0.14},
      {"p":"T15","s":"bk","x":1,"y":2.38},{"p":"T15","s":"bk","x":2,"y":1.16},{"p":"T15","s":"bk","x":3,"y":0.72},{"p":"T15","s":"bk","x":5,"y":0.46},{"p":"T15","s":"bk","x":8,"y":0.37},{"p":"T15","s":"bk","x":10,"y":0.33},{"p":"T15","s":"bk","x":15,"y":0.27},{"p":"T15","s":"bk","x":20,"y":0.2},{"p":"T15","s":"bk","x":30,"y":0.14},{"p":"T15","s":"bk","x":40,"y":0.11},{"p":"T15","s":"bk","x":50,"y":0.09},{"p":"T15","s":"bk","x":60,"y":0.07},{"p":"T15","s":"bk","x":70,"y":0.06},{"p":"T15","s":"bk","x":80,"y":0.06},{"p":"T15","s":"bk","x":90,"y":0.06},{"p":"T15","s":"bk","x":95,"y":0.06},{"p":"T15","s":"bk","x":100,"y":0.1}
    ]
  },
  "columns": 3,
  "spacing": {"row": 15, "column": 18.5},
  "bounds": "flush",
  "concat": [
    {"width": 186, "height": 108, "resolve": {"axis": {"y": "independent"}}, "layer": [
      {"data": {"name": "d"}, "transform": [{"filter": "datum.p === 'T1'"}], "mark": {"type": "line", "strokeWidth": 1},
       "encoding": {
         "x": {"field": "x", "type": "quantitative", "scale": {"domain": [-4.6, 104.8], "nice": false, "zero": false}, "axis": {"title": null, "values": [0,12.5,25,37.5,50,62.5,75,87.5,100], "labelExpr": "datum.value % 25 === 0 ? format(datum.value, 'd') : ''", "gridWidth": {"condition": {"test": "datum.value % 25 === 0", "value": 1}, "value": 0.5}, "tickOpacity": {"condition": {"test": "datum.value % 25 === 0", "value": 1}, "value": 0}}},
         "y": {"field": "y", "type": "quantitative", "scale": {"domain": [-5800, 140403], "nice": false, "zero": false}, "axis": {"title": null, "values": [0,15000,30000,45000,60000,75000,90000,105000], "labelExpr": "datum.value % 30000 === 0 ? format(datum.value, 'd') : ''", "gridWidth": {"condition": {"test": "datum.value % 30000 === 0", "value": 1}, "value": 0.5}, "tickOpacity": {"condition": {"test": "datum.value % 30000 === 0", "value": 1}, "value": 0}}},
         "color": {"field": "s", "type": "nominal", "scale": {"domain": ["lb","bl","gr","or","bk"], "range": ["#56B4E9","#0072B2","#009E73","#E66A1A","#000000"]}, "legend": null},
         "opacity": {"field": "s", "type": "nominal", "scale": {"domain": ["lb","bl","gr","or","bk"], "range": [1,1,1,1,0.64]}, "legend": null}
       }},
      {"data": {"values": [{"label": "T₁"}]}, "mark": {"type": "rect", "fill": "#d9d9d9", "stroke": "#333333", "strokeWidth": 0.8}, "encoding": {"y": {"datum": 117600, "axis": null}, "y2": {"datum": 140403}}},
      {"data": {"values": [{"label": "T₁"}]}, "mark": {"type": "text", "fontSize": 8.5, "color": "#1a1a1a", "baseline": "middle"}, "encoding": {"text": {"field": "label"}, "y": {"datum": 129000, "axis": null}}}
    ]},
    {"width": 186, "height": 108, "resolve": {"axis": {"y": "independent"}}, "layer": [
      {"data": {"name": "d"}, "transform": [{"filter": "datum.p === 'T2'"}], "mark": {"type": "line", "strokeWidth": 1},
       "encoding": {
         "x": {"field": "x", "type": "quantitative", "scale": {"domain": [-4.6, 104.8], "nice": false, "zero": false}, "axis": {"title": null, "values": [0,12.5,25,37.5,50,62.5,75,87.5,100], "labelExpr": "datum.value % 25 === 0 ? format(datum.value, 'd') : ''", "gridWidth": {"condition": {"test": "datum.value % 25 === 0", "value": 1}, "value": 0.5}, "tickOpacity": {"condition": {"test": "datum.value % 25 === 0", "value": 1}, "value": 0}}},
         "y": {"field": "y", "type": "quantitative", "scale": {"domain": [-1.6, 39.986], "nice": false, "zero": false}, "axis": {"title": null, "values": [0,5,10,15,20,25,30], "labelExpr": "datum.value % 10 === 0 ? format(datum.value, 'd') : ''", "gridWidth": {"condition": {"test": "datum.value % 10 === 0", "value": 1}, "value": 0.5}, "tickOpacity": {"condition": {"test": "datum.value % 10 === 0", "value": 1}, "value": 0}}},
         "color": {"field": "s", "type": "nominal", "scale": {"domain": ["lb","bl","gr","or","bk"], "range": ["#56B4E9","#0072B2","#009E73","#E66A1A","#000000"]}, "legend": null}
       }},
      {"data": {"values": [{"label": "T₂"}]}, "mark": {"type": "rect", "fill": "#d9d9d9", "stroke": "#333333", "strokeWidth": 0.8}, "encoding": {"y": {"datum": 33.5, "axis": null}, "y2": {"datum": 39.986}}},
      {"data": {"values": [{"label": "T₂"}]}, "mark": {"type": "text", "fontSize": 8.5, "color": "#1a1a1a", "baseline": "middle"}, "encoding": {"text": {"field": "label"}, "y": {"datum": 36.74, "axis": null}}}
    ]},
    {"width": 186, "height": 108, "resolve": {"axis": {"y": "independent"}}, "layer": [
      {"data": {"name": "d"}, "transform": [{"filter": "datum.p === 'T3'"}], "mark": {"type": "line", "strokeWidth": 1},
       "encoding": {
         "x": {"field": "x", "type": "quantitative", "scale": {"domain": [-4.6, 104.8], "nice": false, "zero": false}, "axis": {"title": null, "values": [0,12.5,25,37.5,50,62.5,75,87.5,100], "labelExpr": "datum.value % 25 === 0 ? format(datum.value, 'd') : ''", "gridWidth": {"condition": {"test": "datum.value % 25 === 0", "value": 1}, "value": 0.5}, "tickOpacity": {"condition": {"test": "datum.value % 25 === 0", "value": 1}, "value": 0}}},
         "y": {"field": "y", "type": "quantitative", "scale": {"domain": [-1.2, 31.145], "nice": false, "zero": false}, "axis": {"title": null, "values": [0,2.5,5,7.5,10,12.5,15,17.5,20,22.5,25], "labelExpr": "datum.value % 5 === 0 ? format(datum.value, 'd') : ''", "gridWidth": {"condition": {"test": "datum.value % 5 === 0", "value": 1}, "value": 0.5}, "tickOpacity": {"condition": {"test": "datum.value % 5 === 0", "value": 1}, "value": 0}}},
         "color": {"field": "s", "type": "nominal", "scale": {"domain": ["lb","bl","gr","or","bk"], "range": ["#56B4E9","#0072B2","#009E73","#E66A1A","#000000"]}, "legend": null}
       }},
      {"data": {"values": [{"label": "T₃"}]}, "mark": {"type": "rect", "fill": "#d9d9d9", "stroke": "#333333", "strokeWidth": 0.8}, "encoding": {"y": {"datum": 26.1, "axis": null}, "y2": {"datum": 31.145}}},
      {"data": {"values": [{"label": "T₃"}]}, "mark": {"type": "text", "fontSize": 8.5, "color": "#1a1a1a", "baseline": "middle"}, "encoding": {"text": {"field": "label"}, "y": {"datum": 28.62, "axis": null}}}
    ]},
    {"width": 186, "height": 108, "resolve": {"axis": {"y": "independent"}}, "layer": [
      {"data": {"name": "d"}, "transform": [{"filter": "datum.p === 'T5'"}], "mark": {"type": "line", "strokeWidth": 1},
       "encoding": {
         "x": {"field": "x", "type": "quantitative", "scale": {"domain": [-4.6, 104.8], "nice": false, "zero": false}, "axis": {"title": null, "values": [0,12.5,25,37.5,50,62.5,75,87.5,100], "labelExpr": "datum.value % 25 === 0 ? format(datum.value, 'd') : ''", "gridWidth": {"condition": {"test": "datum.value % 25 === 0", "value": 1}, "value": 0.5}, "tickOpacity": {"condition": {"test": "datum.value % 25 === 0", "value": 1}, "value": 0}}},
         "y": {"field": "y", "type": "quantitative", "scale": {"domain": [-0.28, 8.878], "nice": false, "zero": false}, "axis": {"title": null, "values": [0,1,2,3,4,5,6,7], "labelExpr": "datum.value % 2 === 0 ? format(datum.value, 'd') : ''", "gridWidth": {"condition": {"test": "datum.value % 2 === 0", "value": 1}, "value": 0.5}, "tickOpacity": {"condition": {"test": "datum.value % 2 === 0", "value": 1}, "value": 0}}},
         "color": {"field": "s", "type": "nominal", "scale": {"domain": ["lb","bl","gr","or","bk"], "range": ["#56B4E9","#0072B2","#009E73","#E66A1A","#000000"]}, "legend": null}
       }},
      {"data": {"values": [{"label": "T₅"}]}, "mark": {"type": "rect", "fill": "#d9d9d9", "stroke": "#333333", "strokeWidth": 0.8}, "encoding": {"y": {"datum": 7.45, "axis": null}, "y2": {"datum": 8.878}}},
      {"data": {"values": [{"label": "T₅"}]}, "mark": {"type": "text", "fontSize": 8.5, "color": "#1a1a1a", "baseline": "middle"}, "encoding": {"text": {"field": "label"}, "y": {"datum": 8.164, "axis": null}}}
    ]},
    {"width": 186, "height": 108, "resolve": {"axis": {"y": "independent"}}, "layer": [
      {"data": {"name": "d"}, "transform": [{"filter": "datum.p === 'T10'"}], "mark": {"type": "line", "strokeWidth": 1},
       "encoding": {
         "x": {"field": "x", "type": "quantitative", "scale": {"domain": [-4.6, 104.8], "nice": false, "zero": false}, "axis": {"title": "SGA Iteration", "values": [0,12.5,25,37.5,50,62.5,75,87.5,100], "labelExpr": "datum.value % 25 === 0 ? format(datum.value, 'd') : ''", "gridWidth": {"condition": {"test": "datum.value % 25 === 0", "value": 1}, "value": 0.5}, "tickOpacity": {"condition": {"test": "datum.value % 25 === 0", "value": 1}, "value": 0}}},
         "y": {"field": "y", "type": "quantitative", "scale": {"domain": [-0.11, 3.776], "nice": false, "zero": false}, "axis": {"title": null, "values": [0,0.5,1,1.5,2,2.5,3], "labelExpr": "datum.value % 1 === 0 ? format(datum.value, 'd') : ''", "gridWidth": {"condition": {"test": "datum.value % 1 === 0", "value": 1}, "value": 0.5}, "tickOpacity": {"condition": {"test": "datum.value % 1 === 0", "value": 1}, "value": 0}}},
         "color": {"field": "s", "type": "nominal", "scale": {"domain": ["lb","bl","gr","or","bk"], "range": ["#56B4E9","#0072B2","#009E73","#E66A1A","#000000"]}, "legend": null}
       }},
      {"data": {"values": [{"label": "T₁₀"}]}, "mark": {"type": "rect", "fill": "#d9d9d9", "stroke": "#333333", "strokeWidth": 0.8}, "encoding": {"y": {"datum": 3.17, "axis": null}, "y2": {"datum": 3.776}}},
      {"data": {"values": [{"label": "T₁₀"}]}, "mark": {"type": "text", "fontSize": 8.5, "color": "#1a1a1a", "baseline": "middle"}, "encoding": {"text": {"field": "label"}, "y": {"datum": 3.473, "axis": null}}}
    ]},
    {"width": 186, "height": 108, "resolve": {"axis": {"y": "independent"}}, "layer": [
      {"data": {"name": "d"}, "transform": [{"filter": "datum.p === 'T15'"}], "mark": {"type": "line", "strokeWidth": 1},
       "encoding": {
         "x": {"field": "x", "type": "quantitative", "scale": {"domain": [-4.6, 104.8], "nice": false, "zero": false}, "axis": {"title": null, "values": [0,12.5,25,37.5,50,62.5,75,87.5,100], "labelExpr": "datum.value % 25 === 0 ? format(datum.value, 'd') : ''", "gridWidth": {"condition": {"test": "datum.value % 25 === 0", "value": 1}, "value": 0.5}, "tickOpacity": {"condition": {"test": "datum.value % 25 === 0", "value": 1}, "value": 0}}},
         "y": {"field": "y", "type": "quantitative", "scale": {"domain": [-0.13, 3.946], "nice": false, "zero": false}, "axis": {"title": null, "values": [0,0.5,1,1.5,2,2.5,3], "labelExpr": "datum.value % 1 === 0 ? format(datum.value, 'd') : ''", "gridWidth": {"condition": {"test": "datum.value % 1 === 0", "value": 1}, "value": 0.5}, "tickOpacity": {"condition": {"test": "datum.value % 1 === 0", "value": 1}, "value": 0}}},
         "color": {"field": "s", "type": "nominal", "scale": {"domain": ["lb","bl","gr","or","bk"], "range": ["#56B4E9","#0072B2","#009E73","#E66A1A","#000000"]}, "legend": null}
       }},
      {"data": {"values": [{"label": "T₁₅"}]}, "mark": {"type": "rect", "fill": "#d9d9d9", "stroke": "#333333", "strokeWidth": 0.8}, "encoding": {"y": {"datum": 3.31, "axis": null}, "y2": {"datum": 3.946}}},
      {"data": {"values": [{"label": "T₁₅"}]}, "mark": {"type": "text", "fontSize": 8.5, "color": "#1a1a1a", "baseline": "middle"}, "encoding": {"text": {"field": "label"}, "y": {"datum": 3.628, "axis": null}}}
    ]}
  ]
}
